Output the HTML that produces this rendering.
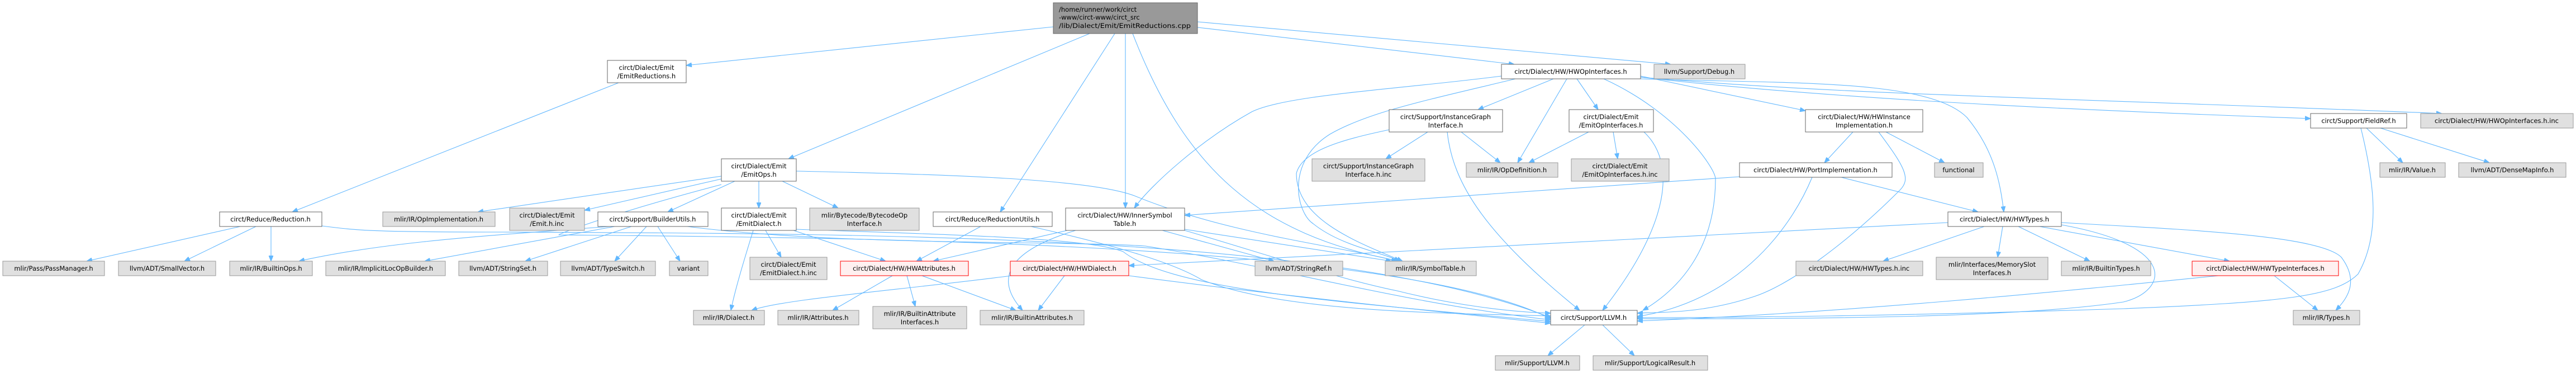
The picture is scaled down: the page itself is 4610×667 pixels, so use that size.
<!DOCTYPE html>
<html><head><meta charset="utf-8"><style>
html,body{margin:0;padding:0;background:#fff;width:4610px;height:667px;overflow:hidden}
svg{display:block}
text{font-family:"DejaVu Sans","Liberation Sans",sans-serif;font-size:11.5px;fill:#000}
.g{fill:#e0e0e0;stroke:#999}
.w{fill:#fff;stroke:#666}
.r{fill:#fff0f0;stroke:#f00}
.m{fill:#999;stroke:#666}
path.e{fill:none;stroke:#63b8ff;stroke-width:1.1}
</style></head><body>
<svg width="4610" height="667" viewBox="0 0 4610 667" xmlns="http://www.w3.org/2000/svg">
<defs><marker id="a" viewBox="0 0 10 8" refX="10" refY="4" markerWidth="10" markerHeight="8" markerUnits="userSpaceOnUse" orient="auto"><path d="M0,0 L10,4 L0,8 z" fill="#63b8ff" stroke="#63b8ff"/></marker></defs>
<g marker-end="url(#a)">
<!-- main -->
<path class="e" d="M1885,48 L1228,117"/>
<path class="e" d="M1950,60 L1411,284"/>
<path class="e" d="M1995,60 L1790,379"/>
<path class="e" d="M2014,60 L2014,372"/>
<path class="e" d="M2027,60 C2120,300 2250,420 2505,467"/>
<path class="e" d="M2143,49 L2710,115"/>
<path class="e" d="M2143,39 L2990,115"/>
<!-- EmitReductions -->
<path class="e" d="M1107,148 L523,379"/>
<!-- Reduction -->
<path class="e" d="M430,405 L155,467"/>
<path class="e" d="M458,405 L330,467"/>
<path class="e" d="M485,405 L485,467"/>
<path class="e" d="M576,404 C640,412 660,415 900,415 C1600,418 2400,420 2775,568"/>
<!-- EmitOps -->
<path class="e" d="M1291,315 L855,379"/>
<path class="e" d="M1291,320 L1046,376"/>
<path class="e" d="M1315,324 L1195,379"/>
<path class="e" d="M1358,324 L1358,372"/>
<path class="e" d="M1400,324 L1500,372"/>
<path class="e" d="M1425,306 C1700,312 1950,320 2030,350 C2200,420 2400,440 2500,467"/>
<path class="e" d="M1291,330 C1100,380 1000,418 1000,420 C1500,425 2500,430 2775,570"/>
<!-- BuilderUtils -->
<path class="e" d="M1090,405 C900,420 700,430 535,467"/>
<path class="e" d="M1100,405 L760,467"/>
<path class="e" d="M1130,405 L940,467"/>
<path class="e" d="M1157,405 L1100,467"/>
<path class="e" d="M1177,405 L1217,467"/>
<path class="e" d="M1230,405 C1500,440 1900,430 2050,440 C2300,480 2500,540 2775,572"/>
<!-- EmitDialect -->
<path class="e" d="M1348,412 C1330,470 1315,520 1308,555"/>
<path class="e" d="M1370,412 L1398,460"/>
<path class="e" d="M1420,412 L1585,467"/>
<path class="e" d="M1425,410 C1700,420 1950,425 2010,450 C2100,520 2400,540 2775,575"/>
<!-- ReductionUtils -->
<path class="e" d="M1755,405 L1640,467"/>
<path class="e" d="M1845,405 C2000,440 2100,470 2150,500 C2300,560 2600,560 2775,565"/>
<!-- InnerSymbolTable -->
<path class="e" d="M1910,412 L1670,467"/>
<path class="e" d="M1925,412 C1800,450 1780,500 1830,555"/>
<path class="e" d="M2080,412 L2280,467"/>
<path class="e" d="M2120,410 L2490,467"/>
<path class="e" d="M2120,412 C2250,450 2400,500 2500,520 C2600,545 2700,558 2775,560"/>
<!-- HWAttributes -->
<path class="e" d="M1597,493 L1490,555"/>
<path class="e" d="M1623,493 L1638,548"/>
<path class="e" d="M1650,493 L1818,555"/>
<!-- HWDialect -->
<path class="e" d="M1810,493 C1600,520 1400,535 1345,555"/>
<path class="e" d="M1905,493 L1858,555"/>
<path class="e" d="M2020,493 C2300,530 2600,560 2775,578"/>
<!-- HWOpInterfaces -->
<path class="e" d="M2687,136 C2500,160 2300,170 2240,200 C2150,250 2060,330 2030,372"/>
<path class="e" d="M2712,141 C2550,180 2450,200 2380,240 C2300,290 2320,380 2350,400 C2400,440 2470,450 2505,467"/>
<path class="e" d="M2780,141 L2645,196"/>
<path class="e" d="M2804,141 L2716,291"/>
<path class="e" d="M2822,141 L2860,196"/>
<path class="e" d="M2936,136 L3231,198"/>
<path class="e" d="M2936,141 C3200,150 3450,140 3520,210 C3570,270 3580,330 3586,379"/>
<path class="e" d="M2936,138 C3300,180 3800,200 4135,212"/>
<path class="e" d="M2936,138 C3300,170 3700,175 4370,203"/>
<path class="e" d="M2870,141 C3000,200 3070,300 3070,320 C3070,450 3000,520 2940,555"/>
<!-- InstanceGraph -->
<path class="e" d="M2486,232 C2400,250 2330,270 2320,310 C2320,390 2420,430 2510,467"/>
<path class="e" d="M2555,236 L2480,284"/>
<path class="e" d="M2615,236 L2685,291"/>
<path class="e" d="M2590,236 C2600,330 2660,420 2827,555"/>
<!-- EmitOpInterfaces -->
<path class="e" d="M2843,236 L2736,291"/>
<path class="e" d="M2887,236 L2895,284"/>
<path class="e" d="M2942,236 C3000,290 2990,400 2868,555"/>
<!-- HWInstanceImpl -->
<path class="e" d="M3316,236 L3265,291"/>
<path class="e" d="M3375,236 L3480,291"/>
<path class="e" d="M3362,236 C3410,300 3420,320 3400,340 C3300,440 3200,510 3140,530 C3050,560 2980,558 2930,560"/>
<!-- PortImpl -->
<path class="e" d="M3113,316 L2120,385"/>
<path class="e" d="M3295,317 L3540,379"/>
<path class="e" d="M3243,317 C3200,420 3100,540 2930,566"/>
<!-- HWTypes -->
<path class="e" d="M3486,398 L2020,475"/>
<path class="e" d="M3551,405 L3370,467"/>
<path class="e" d="M3584,405 L3575,460"/>
<path class="e" d="M3612,405 L3740,467"/>
<path class="e" d="M3650,405 L3990,467"/>
<path class="e" d="M3689,398 C3900,410 4150,420 4190,460 C4220,500 4205,530 4180,555"/>
<path class="e" d="M3689,402 C3900,440 3880,520 3800,540 C3600,570 3200,570 2930,570"/>
<!-- HWTypeInterfaces -->
<path class="e" d="M4070,493 L4148,555"/>
<path class="e" d="M3970,493 C3700,520 3300,560 2930,574"/>
<!-- FieldRef -->
<path class="e" d="M4235,229 L4300,291"/>
<path class="e" d="M4260,229 L4455,291"/>
<path class="e" d="M4225,229 C4250,330 4260,420 4220,490 C4180,530 4090,540 3800,552 C3400,565 3100,568 2930,568"/>
<!-- LLVM -->
<path class="e" d="M2836,581 L2770,636"/>
<path class="e" d="M2868,581 L2925,636"/>
</g>

<!-- nodes -->
<rect class="m" x="1885" y="5" width="258" height="55"/>
<text x="1895" y="21">/home/runner/work/circt</text>
<text x="1895" y="35">-www/circt-www/circt_src</text>
<text x="1895" y="50" textLength="236" lengthAdjust="spacingAndGlyphs">/lib/Dialect/Emit/EmitReductions.cpp</text>

<g text-anchor="middle">
<rect class="w" x="1087" y="108" width="141" height="40"/><text x="1157" y="125">circt/Dialect/Emit</text><text x="1157" y="140">/EmitReductions.h</text>
<rect class="w" x="1291" y="284" width="134" height="40"/><text x="1358" y="301">circt/Dialect/Emit</text><text x="1358" y="316">/EmitOps.h</text>
<rect class="w" x="393" y="379" width="183" height="26"/><text x="484" y="396">circt/Reduce/Reduction.h</text>
<rect class="g" x="5" y="467" width="182" height="26"/><text x="96" y="484">mlir/Pass/PassManager.h</text>
<rect class="g" x="212" y="467" width="174" height="26"/><text x="299" y="484">llvm/ADT/SmallVector.h</text>
<rect class="g" x="411" y="467" width="148" height="26"/><text x="485" y="484">mlir/IR/BuiltinOps.h</text>
<rect class="g" x="583" y="467" width="214" height="26"/><text x="690" y="484">mlir/IR/ImplicitLocOpBuilder.h</text>
<rect class="g" x="821" y="467" width="159" height="26"/><text x="900" y="484">llvm/ADT/StringSet.h</text>
<rect class="g" x="685" y="379" width="201" height="26"/><text x="785" y="396">mlir/IR/OpImplementation.h</text>
<rect class="g" x="912" y="372" width="134" height="40"/><text x="979" y="389">circt/Dialect/Emit</text><text x="979" y="404">/Emit.h.inc</text>
<rect class="w" x="1070" y="379" width="197" height="26"/><text x="1168" y="396">circt/Support/BuilderUtils.h</text>
<rect class="w" x="1291" y="372" width="134" height="40"/><text x="1358" y="389">circt/Dialect/Emit</text><text x="1358" y="404">/EmitDialect.h</text>
<rect class="g" x="1449" y="372" width="196" height="40"/><text x="1547" y="389">mlir/Bytecode/BytecodeOp</text><text x="1547" y="404">Interface.h</text>
<rect class="w" x="1670" y="379" width="213" height="26"/><text x="1776" y="396">circt/Reduce/ReductionUtils.h</text>
<rect class="w" x="1907" y="372" width="213" height="40"/><text x="2013" y="389">circt/Dialect/HW/InnerSymbol</text><text x="2013" y="404">Table.h</text>
<rect class="g" x="1003" y="467" width="170" height="26"/><text x="1088" y="484">llvm/ADT/TypeSwitch.h</text>
<rect class="g" x="1198" y="467" width="69" height="26"/><text x="1232" y="484">variant</text>
<rect class="g" x="1342" y="460" width="138" height="40"/><text x="1411" y="477">circt/Dialect/Emit</text><text x="1411" y="492">/EmitDialect.h.inc</text>
<rect class="r" x="1504" y="467" width="229" height="26"/><text x="1618" y="484">circt/Dialect/HW/HWAttributes.h</text>
<rect class="r" x="1808" y="467" width="212" height="26"/><text x="1914" y="484">circt/Dialect/HW/HWDialect.h</text>
<rect class="g" x="1241" y="555" width="127" height="26"/><text x="1304" y="572">mlir/IR/Dialect.h</text>
<rect class="g" x="1392" y="555" width="145" height="26"/><text x="1464" y="572">mlir/IR/Attributes.h</text>
<rect class="g" x="1562" y="548" width="168" height="40"/><text x="1646" y="565">mlir/IR/BuiltinAttribute</text><text x="1646" y="580">Interfaces.h</text>
<rect class="g" x="1754" y="555" width="186" height="26"/><text x="1847" y="572">mlir/IR/BuiltinAttributes.h</text>
<rect class="w" x="2687" y="115" width="249" height="26"/><text x="2811" y="132">circt/Dialect/HW/HWOpInterfaces.h</text>
<rect class="g" x="2960" y="115" width="163" height="26"/><text x="3041" y="132">llvm/Support/Debug.h</text>
<rect class="w" x="2486" y="196" width="203" height="40"/><text x="2587" y="213">circt/Support/InstanceGraph</text><text x="2587" y="228">Interface.h</text>
<rect class="w" x="2808" y="196" width="151" height="40"/><text x="2883" y="213">circt/Dialect/Emit</text><text x="2883" y="228">/EmitOpInterfaces.h</text>
<rect class="g" x="2348" y="284" width="202" height="40"/><text x="2449" y="301">circt/Support/InstanceGraph</text><text x="2449" y="316">Interface.h.inc</text>
<rect class="g" x="2624" y="291" width="164" height="26"/><text x="2706" y="308">mlir/IR/OpDefinition.h</text>
<rect class="g" x="2812" y="284" width="175" height="40"/><text x="2899" y="301">circt/Dialect/Emit</text><text x="2899" y="316">/EmitOpInterfaces.h.inc</text>
<rect class="g" x="2246" y="467" width="157" height="26"/><text x="2324" y="484">llvm/ADT/StringRef.h</text>
<rect class="g" x="2479" y="467" width="163" height="26"/><text x="2560" y="484">mlir/IR/SymbolTable.h</text>
<rect class="w" x="2775" y="555" width="155" height="26"/><text x="2852" y="572">circt/Support/LLVM.h</text>
<rect class="g" x="2676" y="636" width="151" height="26"/><text x="2751" y="653">mlir/Support/LLVM.h</text>
<rect class="g" x="2851" y="636" width="205" height="26"/><text x="2953" y="653">mlir/Support/LogicalResult.h</text>
<rect class="w" x="3231" y="196" width="210" height="40"/><text x="3336" y="213">circt/Dialect/HW/HWInstance</text><text x="3336" y="228">Implementation.h</text>
<rect class="w" x="3113" y="291" width="273" height="26"/><text x="3249" y="308">circt/Dialect/HW/PortImplementation.h</text>
<rect class="g" x="3462" y="291" width="87" height="26"/><text x="3505" y="308">functional</text>
<rect class="w" x="3486" y="379" width="203" height="26"/><text x="3587" y="396">circt/Dialect/HW/HWTypes.h</text>
<rect class="g" x="3214" y="467" width="227" height="26"/><text x="3327" y="484">circt/Dialect/HW/HWTypes.h.inc</text>
<rect class="g" x="3465" y="460" width="200" height="40"/><text x="3565" y="477">mlir/Interfaces/MemorySlot</text><text x="3565" y="492">Interfaces.h</text>
<rect class="g" x="3689" y="467" width="160" height="26"/><text x="3769" y="484">mlir/IR/BuiltinTypes.h</text>
<rect class="r" x="3923" y="467" width="262" height="26"/><text x="4054" y="484">circt/Dialect/HW/HWTypeInterfaces.h</text>
<rect class="w" x="4135" y="203" width="172" height="26"/><text x="4221" y="220">circt/Support/FieldRef.h</text>
<rect class="g" x="4332" y="203" width="273" height="26"/><text x="4468" y="220">circt/Dialect/HW/HWOpInterfaces.h.inc</text>
<rect class="g" x="4259" y="291" width="117" height="26"/><text x="4317" y="308">mlir/IR/Value.h</text>
<rect class="g" x="4400" y="291" width="192" height="26"/><text x="4496" y="308">llvm/ADT/DenseMapInfo.h</text>
<rect class="g" x="4104" y="555" width="119" height="26"/><text x="4163" y="572">mlir/IR/Types.h</text>
</g>
</svg>
</body></html>
